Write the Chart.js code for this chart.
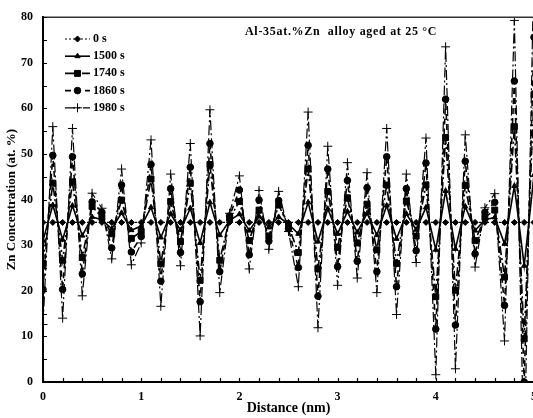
<!DOCTYPE html>
<html>
<head>
<meta charset="utf-8">
<script src="https://cdn.jsdelivr.net/npm/chart.js@4.4.0/dist/chart.umd.min.js"></script>
<style>
html, body { margin: 0; padding: 0; background: #fff; overflow: hidden; }
#wrap { width: 545px; height: 418px; }
</style>
</head>
<body>
<div id="wrap"><canvas id="chart" width="545" height="418"></canvas></div>
<script>
// distance along the profile (nm)
const distance = [0.0,0.1,0.2,0.3,0.4,0.5,0.6,0.7,0.8,0.9,
                  1.0,1.1,1.2,1.3,1.4,1.5,1.6,1.7,1.8,1.9,
                  2.0,2.1,2.2,2.3,2.4,2.5,2.6,2.7,2.8,2.9,
                  3.0,3.1,3.2,3.3,3.4,3.5,3.6,3.7,3.8,3.9,
                  4.0,4.1,4.2,4.3,4.4,4.5,4.6,4.7,4.8,4.9,5.0];

// Zn concentration (at. %) for each ageing time
const zn0s = [35,35,35,35,35,35,35,35,35,35,
              35,35,35,35,35,35,35,35,35,35,
              35,35,35,35,35,35,35,35,35,35,
              35,35,35,35,35,35,35,35,35,35,
              35,35,35,35,35,35,35,35,35,35,35];
const zn1500s = [31.0,38.8,31.2,38.7,32.1,36.2,35.6,33.6,37.1,33.3,
                 34.2,38.3,31.7,36.9,33.3,38.1,30.5,39.4,32.2,35.4,
                 36.8,33.2,36.3,33.9,36.2,34.6,32.5,39.4,30.8,38.0,
                 32.5,37.4,32.8,37.0,32.2,38.7,31.4,36.9,33.4,38.3,
                 29.0,41.9,29.2,38.5,33.2,35.6,36.1,30.3,43.0,25.5,45.4];
const zn1740s = [26.0,43.6,26.7,43.9,27.3,38.5,36.1,32.5,39.9,31.5,
                 33.0,44.5,25.9,39.6,30.8,43.6,22.3,47.7,26.7,35.9,
                 39.6,31.0,37.7,32.0,38.8,34.2,28.4,46.7,24.8,41.8,
                 29.5,40.4,30.5,39.0,29.0,43.2,26.0,39.7,32.0,43.2,
                 18.7,53.6,20.1,43.1,31.0,36.1,37.7,23.0,56.0,9.5,63.0];
const zn1860s = [20.3,49.7,20.3,49.4,23.7,39.5,37.2,29.4,43.2,28.5,
                 31.9,47.7,22.1,42.4,28.4,47.1,17.6,52.3,24.2,36.4,
                 42.1,27.9,39.9,30.9,39.8,33.6,25.1,51.9,18.8,46.7,
                 25.3,44.2,26.5,42.6,24.2,49.4,20.9,42.4,28.8,48.0,
                 11.6,62.0,12.5,48.4,28.1,37.2,39.4,16.8,66.0,0.0,75.6];
const zn1980s = [12.6,56.0,14.0,55.6,18.9,41.4,38.1,27.0,46.7,25.7,
                 30.5,53.1,16.6,45.6,25.5,52.3,10.1,59.7,19.6,37.0,
                 45.2,24.8,42.0,29.1,41.8,33.0,20.9,59.2,11.9,51.7,
                 21.2,48.1,22.8,45.9,19.6,55.6,14.8,45.6,26.2,53.5,
                 1.6,73.5,2.9,54.2,25.2,38.2,41.3,9.0,79.3,-18,93];

const seriesNames = ['0 s', '1500 s', '1740 s', '1860 s', '1980 s'];
const seriesValues = [zn0s, zn1500s, zn1740s, zn1860s, zn1980s];

const xTicks = [0, 1, 2, 3, 4, 5];
const yTicks = [0, 10, 20, 30, 40, 50, 60, 70, 80];

const styles = [
    { dash: [2, 2],        width: 1.2, point: 'rectRot',  r: 3 },
    { dash: [],            width: 1.6, point: 'triangle', r: 3 },
    { dash: [9, 3, 2, 3],  width: 1.6, point: 'rect',     r: 4.2 },
    { dash: [6, 4],        width: 1.6, point: 'circle',   r: 3.3 },
    { dash: [10, 3, 2, 3], width: 1.2, point: 'cross',    r: 4.5 }
];

const SERIF = "'Liberation Serif', 'DejaVu Serif', serif";

const datasets = seriesNames.map((name, i) => ({
    label: name,
    data: distance.map((d, j) => ({ x: d, y: seriesValues[i][j] })),
    borderColor: '#000',
    backgroundColor: '#000',
    borderWidth: styles[i].width,
    borderDash: styles[i].dash,
    pointStyle: styles[i].point,
    pointRadius: styles[i].r,
    pointBackgroundColor: '#000',
    pointBorderColor: '#000',
    pointBorderWidth: 1,
    tension: 0
}));

// frame, inward tick marks, inline title and legend
const decorations = {
    id: 'decorations',
    afterDraw(chart) {
        const ctx = chart.ctx;
        const a = chart.chartArea;
        const xs = chart.scales.x, ys = chart.scales.y;
        ctx.save();
        ctx.strokeStyle = '#333';
        ctx.lineWidth = 1.5;
        ctx.beginPath();
        ctx.moveTo(a.left, a.top);
        ctx.lineTo(a.right + 10, a.top);
        ctx.stroke();

        ctx.strokeStyle = '#000';
        ctx.lineWidth = 1.2;
        ctx.beginPath();
        for (let v = 0; v <= 5.001; v += 0.2) {
            const px = Math.round(xs.getPixelForValue(v)) + 0.5;
            ctx.moveTo(px, a.bottom);
            ctx.lineTo(px, a.bottom - 4);
        }
        for (let v = 0; v <= 80; v += 5) {
            const py = Math.round(ys.getPixelForValue(v)) + 0.5;
            ctx.moveTo(a.left, py);
            ctx.lineTo(a.left + 4, py);
        }
        ctx.stroke();

        ctx.fillStyle = '#000';
        ctx.font = 'bold 12px ' + SERIF;
        ctx.textBaseline = 'middle';
        ctx.textAlign = 'left';
        ctx.letterSpacing = '0.7px';
        ctx.fillText('Al-35at.%Zn  alloy aged at 25 \u00B0C', 245, 32);
        ctx.letterSpacing = '0px';

        for (let i = 0; i < seriesNames.length; i++) {
            const y = 39 + i * 17.2;
            ctx.save();
            ctx.strokeStyle = '#000';
            ctx.lineWidth = styles[i].width;
            ctx.setLineDash(styles[i].dash);
            ctx.beginPath();
            ctx.moveTo(65, y);
            ctx.lineTo(90, y);
            ctx.stroke();
            ctx.setLineDash([]);
            ctx.fillStyle = '#000';
            ctx.lineWidth = 1;
            Chart.helpers.drawPoint(ctx, {
                pointStyle: styles[i].point, radius: styles[i].r, rotation: 0, borderWidth: 1
            }, 77.5, y);
            ctx.restore();
            ctx.fillText(seriesNames[i], 93, y);
        }
        ctx.restore();
    }
};

new Chart(document.getElementById('chart').getContext('2d'), {
    type: 'line',
    data: { datasets: datasets },
    options: {
        responsive: false,
        animation: false,
        devicePixelRatio: 1,
        layout: { padding: { top: 10, right: 2, bottom: 0, left: 0 } },
        plugins: {
            legend: { display: false },
            tooltip: { enabled: false }
        },
        scales: {
            x: {
                type: 'linear',
                min: 0, max: 5,
                afterBuildTicks: (scale) => { scale.ticks = xTicks.map(v => ({ value: v })); },
                afterFit: (scale) => { scale.height = 36; },
                grid: { display: false, drawTicks: false },
                border: { display: true, color: '#000', width: 2 },
                ticks: { color: '#000', padding: 8, font: { family: SERIF, size: 12, weight: 'bold' } },
                title: { display: true, text: 'Distance (nm)', color: '#000', padding: { top: 0, bottom: 1 },
                         font: { family: SERIF, size: 14, weight: 'bold' } }
            },
            y: {
                min: 0, max: 80,
                afterBuildTicks: (scale) => { scale.ticks = yTicks.map(v => ({ value: v })); },
                afterFit: (scale) => { scale.width = 43; },
                grid: { display: false, drawTicks: false },
                border: { display: true, color: '#000', width: 2 },
                ticks: { color: '#000', padding: 10, font: { family: SERIF, size: 12, weight: 'bold' } },
                title: { display: true, text: 'Zn Concentration (at. %)', color: '#000', padding: { top: 4, bottom: 0 },
                         font: { family: SERIF, size: 13, weight: 'bold' } }
            }
        }
    },
    plugins: [decorations]
});
</script>
</body>
</html>
